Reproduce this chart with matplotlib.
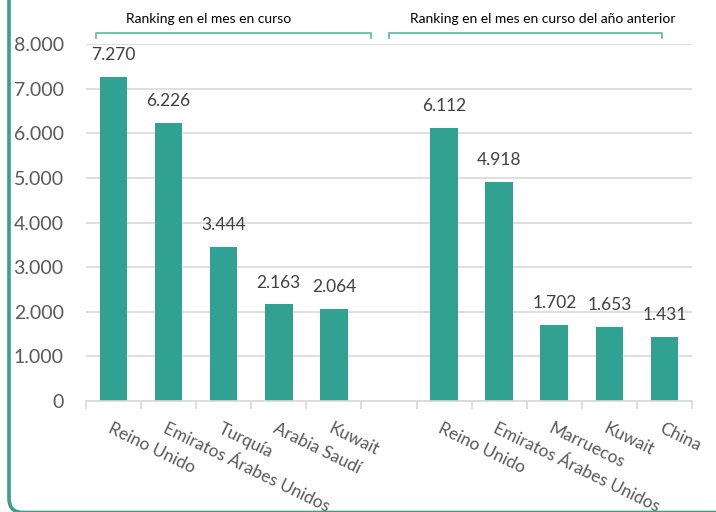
import matplotlib
matplotlib.use("Agg")
import matplotlib.pyplot as plt
from matplotlib.ticker import FuncFormatter, MultipleLocator
from matplotlib.patches import FancyBboxPatch
import numpy as np

plt.rcParams['font.family'] = ['Lato', 'DejaVu Sans']

cats_current = ["Reino Unido", "Emiratos Árabes Unidos", "Turquía", "Arabia Saudí", "Kuwait"]
vals_current = [7270, 6226, 3444, 2163, 2064]
cats_prev = ["Reino Unido", "Emiratos Árabes Unidos", "Marruecos", "Kuwait", "China"]
vals_prev = [6112, 4918, 1702, 1653, 1431]
group_titles = ["Ranking en el mes en curso", "Ranking en el mes en curso del año anterior"]

cats = cats_current + [""] + cats_prev
vals = vals_current + [np.nan] + vals_prev
x = np.arange(len(cats))

BAR = "#31a191"
fig = plt.figure(figsize=(7.16, 5.12), dpi=100)
ax = fig.add_axes([0.120, 0.2168, 0.8465, 0.6972])

bars = ax.bar(x, vals, width=0.5, color=BAR, zorder=3)
for xi, v in zip(x, vals):
    if not np.isnan(v):
        ax.annotate(f"{int(v):,}".replace(",", "."), (xi, v), xytext=(0, 10),
                    textcoords="offset points", ha="center", va="bottom",
                    fontsize=12.5, color="#404040")

ax.set_xlim(-0.5, len(cats) - 0.5)
ax.set_ylim(0, 8000)
ax.yaxis.set_major_locator(MultipleLocator(1000))
ax.yaxis.set_major_formatter(FuncFormatter(lambda v, p: f"{int(v):,}".replace(",", ".")))
ax.tick_params(axis="y", length=0, labelsize=14, labelcolor="#595959", pad=16)
ax.grid(axis="y", color="#d9d9d9", linewidth=1.2, zorder=0)
for s in ["left", "right", "top"]:
    ax.spines[s].set_visible(False)
ax.spines["bottom"].set_color("#d9d9d9")
ax.spines["bottom"].set_linewidth(1.2)
ax.spines["bottom"].set_zorder(4)

# category boundary ticks
ax.set_xticks(np.arange(len(cats) + 1) - 0.5, minor=False)
ax.set_xticklabels([])
ax.tick_params(axis="x", length=6, color="#d9d9d9", width=1.2)
for xi, c in zip(x, cats):
    if c:
        ax.text(xi - 0.02, -430, c, rotation=-26, rotation_mode="anchor",
                ha="left", va="top", fontsize=12.5, color="#595959")

# group brackets
def bracket(x0, x1, title, fx_text):
    trans = ax.get_xaxis_transform()
    yb = 1.032
    ax.plot([x0, x0, x1, x1], [yb - 0.016, yb, yb, yb - 0.016], color="#5bb5a6",
            lw=1.2, transform=trans, clip_on=False)
    ax.text(fx_text, yb + 0.022, title, transform=trans, ha="center", va="bottom",
            fontsize=10, color="#000000")

bracket(-0.31, 4.67, group_titles[0], 1.73)
bracket(5.0, 9.95, group_titles[1], 7.8)

# left frame line with rounded bottom corner
frame = FancyBboxPatch((9, -0.5), 1000, 700, boxstyle="round,pad=0,rounding_size=14",
                       transform=None, fill=False, edgecolor="#3a9e8c", lw=2.6,
                       clip_on=False, zorder=0)
fig.patches.append(frame)

fig.savefig("out.png", dpi=100)
